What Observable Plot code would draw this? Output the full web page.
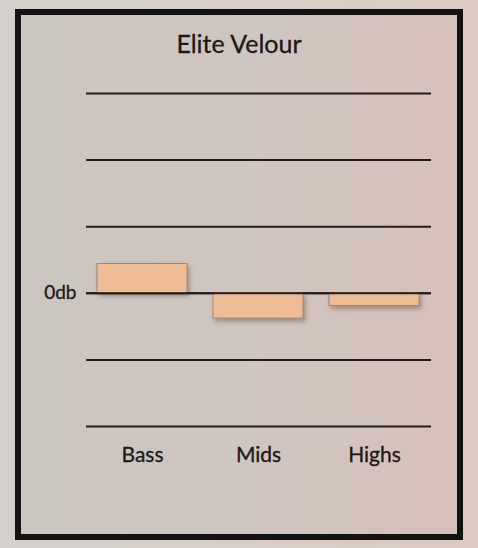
<!DOCTYPE html>
<html>
<head>
<meta charset="utf-8">
<script src="https://cdn.jsdelivr.net/npm/d3@7"></script>
<script src="https://cdn.jsdelivr.net/npm/@observablehq/plot@0.6"></script>
<style>
  html, body { margin: 0; padding: 0; }
  body {
    width: 478px; height: 548px; position: relative; overflow: hidden;
    background: linear-gradient(to right, #d3d1cd, #dccac2);
    font-family: Lato, "Open Sans", sans-serif;
  }
  #frame {
    position: absolute; left: 15px; top: 9px; width: 448px; height: 531px;
    box-sizing: border-box; border: 6px solid #141212;
    background: linear-gradient(to right, #cbc6c1, #d0c5bf 55%, #d6c1b9);
  }
  #title {
    position: absolute; left: 0; top: 28px; width: 478px; text-align: center;
    font-family: Lato, sans-serif; font-size: 25px; color: #1c1816; margin: 0; font-weight: 400;
    -webkit-text-stroke: 0.3px #1c1816;
  }
  #chart { position: absolute; left: 0; top: 0; }
  #chart svg g[aria-label="bar"] rect { filter: drop-shadow(2px 3px 2px rgba(60,40,30,0.35)); }
  #chart svg g[aria-label^="x-axis"] text, #chart svg g[aria-label^="y-axis"] text { stroke: #1c1816; stroke-width: 0.3px; }
</style>
</head>
<body>
<div id="frame"></div>
<div id="title">Elite Velour</div>
<div id="chart"></div>
<script>
const categories = ["Bass", "Mids", "Highs"];
const values = [0.44, -0.38, -0.19];
const gridTicks = [-2, -1, 0, 1, 2, 3];
const zeroLabel = "0db";

const data = categories.map((c, i) => ({band: c, value: values[i]}));

const chart = Plot.plot({
  width: 478,
  height: 548,
  marginLeft: 86,
  marginRight: 47,
  marginTop: 93,
  marginBottom: 122,
  style: {background: "transparent", fontFamily: "Lato, sans-serif", color: "#1c1816"},
  x: {domain: categories, paddingInner: 0.22, paddingOuter: 0.095},
  y: {domain: [-2, 3]},
  marks: [
    Plot.ruleY(gridTicks, {stroke: "#241c1a", strokeWidth: 2}),
    Plot.barY(data, {x: "band", y: "value", fill: "#efbd95", stroke: "#9c8a7a", strokeWidth: 1}),
    Plot.ruleY([0], {stroke: "#241c1a", strokeWidth: 2}),
    Plot.axisX({tickSize: 0, tickPadding: 21, fontSize: 21, label: null}),
    Plot.axisY({ticks: [0], tickFormat: () => zeroLabel, tickSize: 0, tickPadding: 10, fontSize: 19, label: null})
  ]
});
document.getElementById("chart").appendChild(chart);
</script>
</body>
</html>
